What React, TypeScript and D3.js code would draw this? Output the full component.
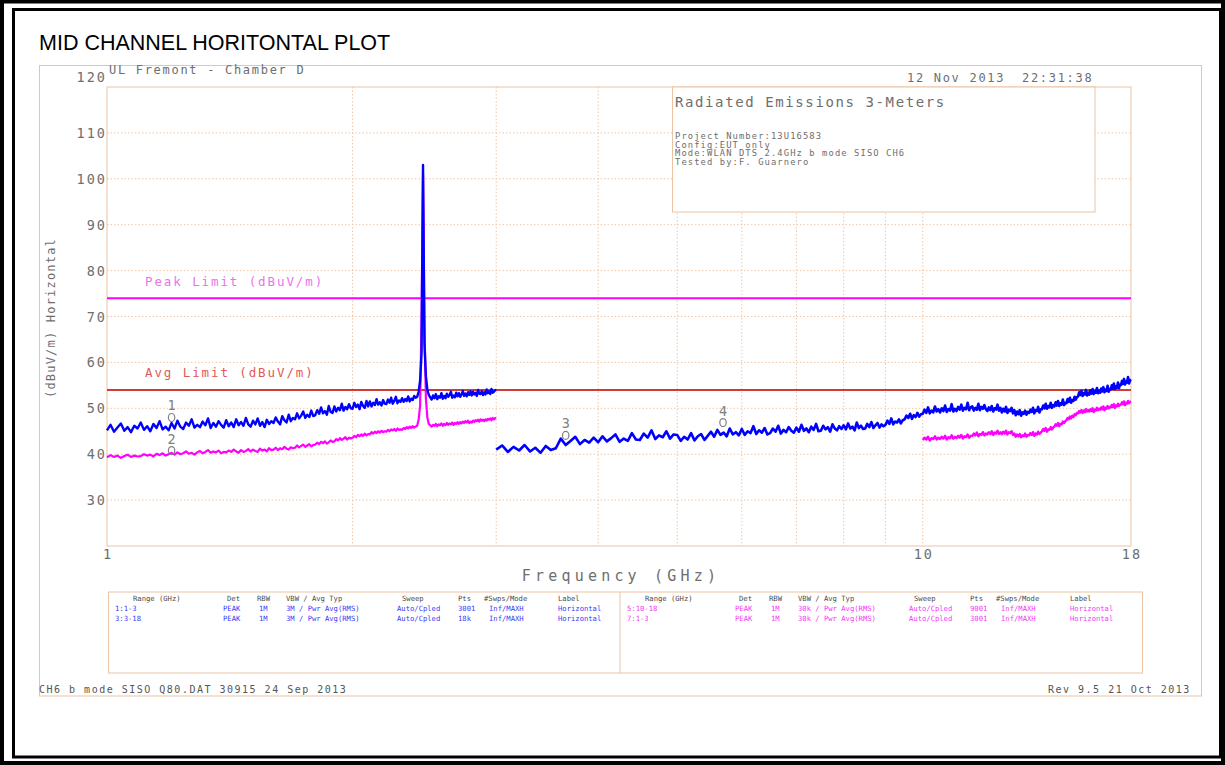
import * as d3 from 'd3'

const width = 1225
const height = 765

// axis ticks
const yTicks = [30, 40, 50, 60, 70, 80, 90, 100, 110]
const yLabels = [30, 40, 50, 60, 70, 80, 90, 100, 110, 120]
const xGridFreqs = [2, 3, 4, 5, 6, 7, 8, 9, 10]
const xLabels = [1, 10, 18]

const peakLimit = 74
const avgLimit = 54

// sweep ranges (GHz)
const peak1to3Range = [1, 3]
const avg1to3Range = [1, 3]
const peak3to18Range = [3, 18]
const avg10to18Range = [10, 18]

// trace levels (dBuV/m), one per sweep step
const peak1to3 = [
  45.2, 46.4, 44.9, 45.8, 46.7, 45.1, 45.9, 44.8, 46.2, 45.6,
  46.9, 45.3, 46.1, 45.0, 46.6, 45.7, 47.2, 45.4, 46.0, 45.2,
  46.8, 45.6, 47.3, 46.0, 45.5, 46.9, 46.2, 47.6, 45.8, 46.4,
  45.9, 47.1, 46.3, 47.8, 45.7, 46.8, 46.0, 47.2, 46.4, 45.8,
  47.4, 46.1, 46.9, 45.9, 47.6, 46.3, 47.0, 46.2, 47.9, 46.5,
  46.0, 47.3, 46.5, 47.8, 46.2, 47.0, 45.9, 47.5, 46.6, 47.2,
  46.8, 48.0, 47.1, 46.5, 48.3, 47.4, 46.9, 48.6, 47.2, 47.9,
  47.6, 48.9, 47.8, 48.4, 49.3, 47.9, 48.6, 48.1, 49.5, 48.3,
  48.5, 49.6, 48.8, 50.2, 48.9, 49.4, 48.6, 50.5, 49.2, 49.0,
  50.4, 49.3, 50.1, 49.6, 51.0, 49.5, 50.3, 49.8, 50.9, 50.0,
  49.9, 51.2, 50.3, 50.8, 49.8, 51.4, 50.5, 50.1, 51.6, 50.4,
  51.5, 50.4, 51.2, 50.7, 52.0, 50.8, 51.3, 50.6, 51.8, 51.0,
  50.9, 51.9, 51.2, 52.3, 51.0, 51.6, 52.5, 51.1, 51.7, 51.4,
  52.2, 51.4, 52.0, 51.6, 52.6, 51.5, 52.1, 51.8, 52.7, 52.3,
  52.5, 53.6, 56.0, 62.0, 103.0, 64.0, 57.0, 54.0, 52.9, 52.4,
  51.9, 52.8, 52.2, 53.1, 52.0, 52.6, 52.3, 53.3, 52.1, 52.7,
  52.2, 53.2, 52.5, 52.9, 53.6, 52.3, 52.8, 52.4, 53.4, 52.6,
  53.3, 52.5, 53.0, 53.8, 52.7, 53.2, 52.6, 53.5, 52.9, 53.7,
  52.8, 53.6, 53.0, 53.4, 52.7, 54.0, 53.2, 53.1, 53.7, 52.9,
  53.5, 53.0, 54.1, 53.3, 53.7, 53.1, 54.2, 53.4, 53.6, 53.9, 54.0,
]

const avg1to3 = [
  39.3, 39.8, 39.4, 39.7, 39.2, 39.6, 39.9, 39.4, 39.7, 39.5,
  39.6, 40.0, 39.7, 39.9, 39.5, 40.1, 39.8, 40.2, 39.7, 40.0,
  40.3, 39.9, 40.4, 40.0, 40.2, 40.6, 40.1, 40.3, 39.9, 40.4,
  40.7, 40.2, 40.5, 40.9, 40.3, 40.6, 40.4, 40.8, 40.2, 40.5,
  40.4, 40.8, 40.5, 41.0, 40.6, 40.3, 40.9, 40.5, 40.7, 41.1,
  40.6, 41.0, 40.7, 40.5, 41.2, 40.8, 41.0, 40.6, 41.3, 40.9,
  41.0, 41.4, 40.9, 41.3, 41.1, 41.6, 41.2, 41.0, 41.5, 41.3,
  41.4, 41.9, 41.5, 41.8, 42.1, 41.6, 41.9, 42.2, 41.7, 42.0,
  42.1, 42.5, 42.2, 42.7, 42.4, 42.8, 42.3, 42.6, 43.0, 42.7,
  42.8, 43.3, 43.0, 43.5, 43.1, 43.4, 43.7, 43.2, 43.6, 43.4,
  43.6, 44.0, 43.7, 44.2, 43.9, 44.3, 44.0, 44.5, 44.1, 44.4,
  44.3, 44.8, 44.5, 44.9, 44.6, 45.0, 44.7, 45.1, 44.8, 45.0,
  44.9, 45.3, 45.0, 45.4, 45.2, 45.5, 45.1, 45.6, 45.3, 45.4,
  45.3, 45.7, 45.5, 45.9, 45.6, 46.0, 45.7, 46.1, 45.8, 46.0,
  46.2, 47.5, 50.5, 70.0, 101.0, 68.0, 52.0, 48.0, 46.6, 46.3,
  46.0, 46.4, 46.2, 46.6, 46.1, 46.5, 46.3, 46.7, 46.2, 46.6,
  46.3, 46.8, 46.4, 46.7, 46.5, 46.9, 46.4, 46.8, 46.6, 47.0,
  46.6, 47.0, 46.7, 47.1, 46.8, 47.2, 46.9, 47.3, 46.8, 47.1,
  46.9, 47.3, 47.0, 47.4, 47.2, 47.5, 47.1, 47.6, 47.3, 47.5,
  47.2, 47.6, 47.3, 47.7, 47.5, 47.8, 47.4, 47.9, 47.6, 47.8, 47.9,
]

const peak3to18 = [
  41.0, 41.9, 40.5, 41.6, 40.8, 42.0, 40.6, 41.4, 40.3, 41.8, 40.9, 41.3,
  43.4, 42.0, 42.9, 43.8, 42.2, 43.1, 42.5, 43.6,
  42.6, 43.9, 42.8, 43.5, 44.3, 42.7, 43.4, 42.9, 44.6, 43.2,
  43.1, 44.5, 43.6, 45.2, 43.3, 44.1, 43.7, 45.0, 43.4, 44.3,
  44.2, 42.9, 43.8, 43.2, 44.6, 43.0, 43.9, 44.4, 43.1, 44.0,
  44.9, 43.8, 45.3, 44.2, 44.7, 43.9, 45.6, 44.3, 44.8, 44.1,
  45.5, 44.2, 45.0, 44.6, 46.1, 44.4, 45.2, 44.7, 45.7, 44.3,
  44.6, 45.6, 44.9, 46.2, 44.5, 45.3, 44.8, 45.9, 45.1, 44.7,
  45.8, 44.9, 46.4, 45.1, 45.6, 44.8, 46.0, 45.3, 46.6, 45.0,
  45.1, 46.2, 45.4, 45.9, 44.9, 46.5, 45.6, 45.2, 46.1, 45.5,
  46.3, 45.4, 46.7, 45.6, 46.0, 45.2, 46.9, 45.7, 46.2, 45.5,
  45.6, 46.6, 45.9, 47.0, 45.7, 46.3, 46.8, 45.8, 46.5, 46.1,
  46.4, 47.3, 46.6, 47.8, 46.5, 47.1, 46.9, 47.6, 46.7, 47.4,
  47.6, 48.4, 47.9, 48.8, 47.7, 48.5, 48.1, 49.0, 48.2, 48.7,
  48.8, 49.7, 49.0, 50.2, 48.9, 49.5, 49.1, 50.4, 49.3, 49.8,
  49.1, 50.0, 49.4, 50.6, 49.2, 49.8, 49.5, 50.9, 49.3, 49.9,
  49.4, 50.3, 49.7, 50.8, 49.5, 50.1, 49.8, 51.2, 49.6, 50.2,
  50.4, 49.5, 50.1, 49.7, 51.0, 49.6, 50.3, 49.9, 50.7, 49.8,
  49.4, 50.2, 49.6, 50.5, 49.3, 50.0, 49.7, 50.8, 49.5, 50.1,
  49.1, 49.9, 49.3, 50.3, 49.0, 49.7, 49.4, 50.1, 48.9, 49.6,
  48.5, 49.3, 48.7, 49.6, 48.4, 49.1, 48.8, 49.5, 48.6, 49.2,
  49.0, 49.7, 49.2, 50.1, 48.9, 49.6, 49.4, 50.3, 49.1, 49.8,
  49.8, 50.6, 50.0, 51.0, 49.9, 50.5, 50.2, 51.2, 50.1, 50.7,
  50.4, 51.3, 50.6, 51.6, 50.5, 51.1, 50.8, 51.9, 50.7, 51.2,
  51.1, 52.0, 51.4, 52.3, 51.2, 51.8, 51.6, 52.5, 51.9, 52.4,
  52.6, 53.5, 52.9, 53.8, 52.7, 53.3, 53.0, 54.0, 52.8, 53.4,
  53.0, 53.9, 53.2, 54.2, 53.1, 53.7, 53.4, 54.4, 53.3, 53.8,
  53.4, 54.3, 53.7, 54.6, 53.5, 54.1, 53.8, 54.9, 53.6, 54.2,
  54.1, 55.0, 54.3, 55.4, 54.2, 54.8, 54.5, 55.6, 54.4, 55.1,
  55.1, 56.0, 55.3, 56.4, 55.2, 55.8, 55.6, 56.8, 55.4, 56.1, 56.3,
]

const avg10to18 = [
  43.1, 43.6, 43.2, 43.8, 43.0, 43.5, 43.3, 43.9, 43.2, 43.6,
  43.3, 43.8, 43.4, 44.0, 43.2, 43.7, 43.5, 44.1, 43.4, 43.8,
  43.5, 44.0, 43.6, 44.2, 43.4, 43.9, 43.7, 44.3, 43.6, 44.0,
  44.0, 44.5, 44.1, 44.7, 43.9, 44.4, 44.2, 44.8, 44.1, 44.5,
  44.3, 44.8, 44.4, 45.0, 44.2, 44.7, 44.5, 45.1, 44.4, 44.8,
  44.4, 44.9, 44.5, 45.1, 44.3, 44.8, 44.6, 45.0, 44.2, 44.5,
  43.8, 44.3, 43.9, 44.4, 43.7, 44.1, 43.9, 44.5, 43.8, 44.2,
  44.1, 44.6, 44.2, 44.8, 44.0, 44.5, 44.3, 44.9, 44.4, 44.7,
  45.0, 45.5, 45.1, 45.7, 44.9, 45.4, 45.3, 45.9, 45.4, 45.8,
  46.0, 46.5, 46.2, 46.8, 46.1, 46.6, 46.5, 47.1, 46.8, 47.2,
  47.4, 47.9, 47.6, 48.2, 47.8, 48.4, 48.1, 48.7, 48.5, 49.0,
  48.9, 49.4, 49.1, 49.6, 49.0, 49.5, 49.2, 49.8, 49.3, 49.6,
  49.3, 49.8, 49.4, 50.0, 49.2, 49.7, 49.5, 50.1, 49.6, 49.9,
  49.7, 50.2, 49.8, 50.4, 49.6, 50.1, 49.9, 50.5, 50.0, 50.3,
  50.2, 50.7, 50.3, 50.9, 50.1, 50.6, 50.4, 51.0, 50.5, 50.8,
  50.8, 51.3, 50.9, 51.5, 50.7, 51.2, 51.0, 51.6, 51.1, 51.4, 51.5,
]

// markers
const markerIds = ['1', '2', '3', '4']
const markerFreqs = [1.2, 1.2, 3.65, 5.69]
const markerLevels = [48.0, 40.8, 44.1, 46.9]

// info box text
const infoTitle = 'Radiated Emissions 3-Meters'
const infoLines = [
  'Project Number:13U16583',
  'Config:EUT only',
  'Mode:WLAN DTS 2.4GHz b mode SISO CH6',
  'Tested by:F. Guarnero',
]

// settings table
const legendHeaders = ['Range (GHz)', 'Det', 'RBW', 'VBW / Avg Typ', 'Sweep', 'Pts', '#Swps/Mode', 'Label']
const peakRows = [
  ['1:1-3', 'PEAK', '1M', '3M / Pwr Avg(RMS)', 'Auto/Cpled', '3001', 'Inf/MAXH', 'Horizontal'],
  ['3:3-18', 'PEAK', '1M', '3M / Pwr Avg(RMS)', 'Auto/Cpled', '18k', 'Inf/MAXH', 'Horizontal'],
]
const avgRows = [
  ['5:10-18', 'PEAK', '1M', '30k / Pwr Avg(RMS)', 'Auto/Cpled', '9001', 'Inf/MAXH', 'Horizontal'],
  ['7:1-3', 'PEAK', '1M', '30k / Pwr Avg(RMS)', 'Auto/Cpled', '3001', 'Inf/MAXH', 'Horizontal'],
]

// layout
const plot = { left: 107, right: 1131, top: 87, bottom: 546 }
const headerCols = [133, 227, 257, 286, 402, 458, 484, 558]
const rowCols = [115, 223, 259, 286, 397, 458, 489, 558]
const halfOffset = 512

const mono = '"DejaVu Sans Mono", monospace'
const frameColor = '#ebc3a3'
const gridColor = '#f0c7a6'
const textGray = '#6e6e6e'

const x = d3.scaleLog().domain([1, 18]).range([plot.left, plot.right])
const y = d3.scaleLinear().domain([20, 120]).range([plot.bottom, plot.top])

function tracePath(range: number[], values: number[]) {
  const step = (range[1] - range[0]) / (values.length - 1)
  return d3
    .line<number>()
    .x((_, i) => x(range[0] + i * step))
    .y((d) => y(d))(values)
}

function App() {
  return (
    <svg
      width={width}
      height={height}
      style={{ position: 'absolute', left: 0, top: 0, background: '#fff' }}
    >
      {/* page border */}
      <rect x={2} y={1.5} width={1221} height={761.5} fill="none" stroke="#000" strokeWidth={4} />
      <rect x={13.5} y={9.5} width={1207} height={747.5} fill="none" stroke="#000" strokeWidth={3} />

      <text x={39} y={50} fontFamily='"Liberation Sans", Arial, sans-serif' fontSize={21.5}>
        MID CHANNEL HORITONTAL PLOT
      </text>

      {/* plotter frame */}
      <rect x={39.5} y={65.5} width={1162} height={630.5} fill="none" stroke={frameColor} />

      <g fontFamily={mono} fill={textGray} fontSize={12} letterSpacing={1.7}>
        <text x={109} y={74}>UL Fremont - Chamber D</text>
        <text x={907} y={82}>12 Nov 2013</text>
        <text x={1022} y={82}>22:31:38</text>
      </g>

      {/* grid */}
      <g stroke={gridColor} strokeDasharray="1.5,2" strokeWidth={1}>
        {yTicks.map((t) => (
          <line key={t} x1={plot.left} x2={plot.right} y1={y(t)} y2={y(t)} />
        ))}
        {xGridFreqs.map((f) => (
          <line key={f} x1={x(f)} x2={x(f)} y1={plot.top} y2={plot.bottom} />
        ))}
      </g>
      <rect
        x={plot.left}
        y={plot.top}
        width={plot.right - plot.left}
        height={plot.bottom - plot.top}
        fill="none"
        stroke={frameColor}
      />

      {/* y labels */}
      <g fontFamily={mono} fill={textGray} fontSize={13.5} letterSpacing={2} textAnchor="end">
        {yLabels.map((t) => (
          <text key={t} x={107} y={t === 120 ? 82 : y(t) + 5}>
            {t}
          </text>
        ))}
      </g>
      <text
        transform="translate(55,318) rotate(-90)"
        fontFamily={mono}
        fontSize={12}
        letterSpacing={1.2}
        fill={textGray}
        textAnchor="middle"
      >
        (dBuV/m) Horizontal
      </text>

      {/* x labels */}
      <g fontFamily={mono} fill={textGray} fontSize={13.5} letterSpacing={2} textAnchor="middle">
        {xLabels.map((f) => (
          <text key={f} x={x(f) + 1} y={559}>
            {f}
          </text>
        ))}
      </g>
      <text
        x={621}
        y={581}
        fontFamily={mono}
        fontSize={15}
        letterSpacing={4.2}
        fill={textGray}
        textAnchor="middle"
      >
        Frequency (GHz)
      </text>

      {/* info box */}
      <rect x={672.5} y={87} width={422.5} height={125} fill="#fff" stroke={frameColor} />
      <g fontFamily={mono} fill={textGray}>
        <text x={675} y={107} fontSize={14} letterSpacing={1.6}>
          {infoTitle}
        </text>
        {infoLines.map((l, i) => (
          <text key={l} x={675} y={139 + i * 8.6} fontSize={8.8} letterSpacing={1.1}>
            {l}
          </text>
        ))}
      </g>

      {/* limits */}
      <line x1={plot.left} x2={plot.right} y1={y(peakLimit)} y2={y(peakLimit)} stroke="#ff00ff" strokeWidth={2} />
      <line x1={plot.left} x2={plot.right} y1={y(avgLimit)} y2={y(avgLimit)} stroke="#cf3a3a" strokeWidth={2} />
      <g fontFamily={mono} fontSize={12.5} letterSpacing={1.9}>
        <text x={145} y={y(peakLimit) - 12} fill="#ec72ec">
          Peak Limit (dBuV/m)
        </text>
        <text x={145} y={y(avgLimit) - 13} fill="#e05a5a">
          Avg Limit (dBuV/m)
        </text>
      </g>

      {/* traces */}
      <g fill="none" strokeLinejoin="round">
        <path d={tracePath(avg1to3Range, avg1to3) ?? ''} stroke="#ff00ff" strokeWidth={2.2} />
        <path d={tracePath(avg10to18Range, avg10to18) ?? ''} stroke="#ff00ff" strokeWidth={2.4} />
        <path d={tracePath(peak1to3Range, peak1to3) ?? ''} stroke="#0000ff" strokeWidth={2.4} />
        <path d={tracePath(peak3to18Range, peak3to18) ?? ''} stroke="#0000ff" strokeWidth={2.6} />
      </g>

      {/* markers */}
      <g fontFamily={mono} fontSize={13.5} fill="#808080" textAnchor="middle">
        {markerIds.map((id, i) => {
          const mx = x(markerFreqs[i])
          const my = y(markerLevels[i])
          return (
            <g key={id}>
              <text x={mx} y={my - 7}>
                {id}
              </text>
              <ellipse cx={mx} cy={my} rx={3.2} ry={4} fill="none" stroke="#808080" strokeWidth={1.2} />
            </g>
          )
        })}
      </g>

      {/* settings table */}
      <rect x={108.5} y={592} width={1034} height={81} fill="#fff" stroke={frameColor} />
      <line x1={620} x2={620} y1={592} y2={673} stroke={frameColor} />
      <g fontFamily={mono} fontSize={7.2} fill="#4a4a4a">
        {[0, halfOffset].map((off) =>
          legendHeaders.map((h, j) => (
            <text key={`${off}-${h}`} x={headerCols[j] + off} y={600.5}>
              {h}
            </text>
          )),
        )}
      </g>
      <g fontFamily={mono} fontSize={7.2}>
        {peakRows.map((row, r) =>
          row.map((c, j) => (
            <text key={`p${r}-${j}`} x={rowCols[j]} y={610.5 + r * 10.5} fill="#3a3af5">
              {c}
            </text>
          )),
        )}
        {avgRows.map((row, r) =>
          row.map((c, j) => (
            <text key={`a${r}-${j}`} x={rowCols[j] + halfOffset} y={610.5 + r * 10.5} fill="#f23af2">
              {c}
            </text>
          )),
        )}
      </g>

      {/* footer */}
      <g fontFamily={mono} fontSize={10} letterSpacing={1.5} fill="#555">
        <text x={39} y={693}>CH6 b mode SISO Q80.DAT 30915 24 Sep 2013</text>
        <text x={1048} y={693}>Rev 9.5 21 Oct 2013</text>
      </g>
    </svg>
  )
}

export default App
